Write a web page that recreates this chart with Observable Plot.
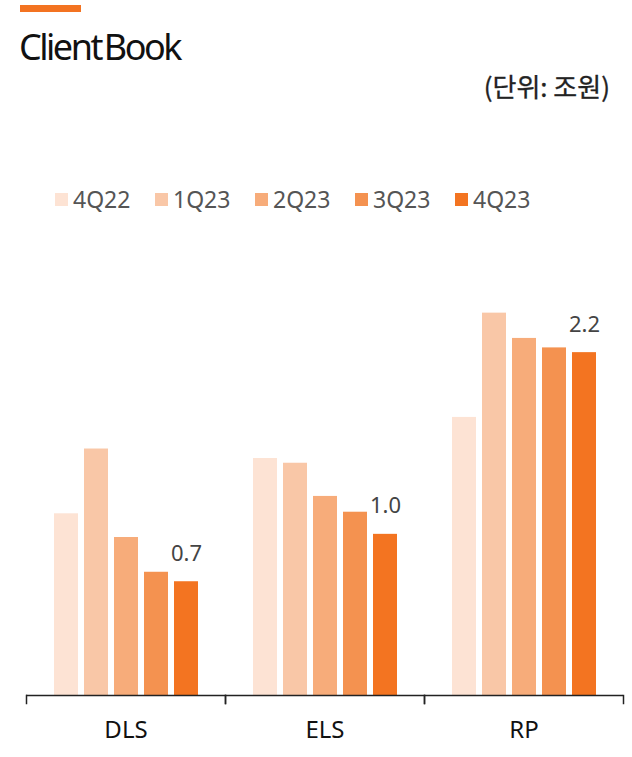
<!DOCTYPE html>
<html><head><meta charset="utf-8">
<script src="https://cdn.jsdelivr.net/npm/d3@7"></script>
<script src="https://cdn.jsdelivr.net/npm/@observablehq/plot@0.6"></script>
<style>
body{margin:0;background:#fff;font-family:"Noto Sans","Noto Sans CJK KR",sans-serif;}
#wrap{position:relative;width:632px;height:757px;overflow:hidden;background:#fff}
#stripe{position:absolute;left:20px;top:5px;width:61px;height:7px;background:#F37321}
#title{position:absolute;left:19px;top:29px;font-size:36px;line-height:36px;letter-spacing:-2.5px;word-spacing:-4px;color:#111;white-space:nowrap}
#unit{position:absolute;right:22px;top:71px;font-family:"Noto Sans CJK KR","Noto Sans",sans-serif;font-size:26px;line-height:30px;font-weight:400;color:#222;white-space:nowrap;-webkit-text-stroke:0.3px #222}
#legend{position:absolute;left:55px;top:185px;display:flex}
.item{width:100px;display:flex;align-items:center;height:28px}
.sw{width:13px;height:13px;margin-right:5px;flex:none}
.lab{font-size:23px;color:#555;line-height:28px}
#chart{position:absolute;left:0;top:0}
</style>
</head><body>
<div id="wrap">
  <div id="stripe"></div>
  <div id="title">Client Book</div>
  <div id="unit">(단위: 조원)</div>
  <div id="legend"></div>
  <div id="chart"></div>
</div>
<script>
const groups = ["DLS", "ELS", "RP"];
const series = ["4Q22", "1Q23", "2Q23", "3Q23", "4Q23"];
const colors = ["#FDE3D4", "#F9C7A7", "#F7AC7A", "#F49250", "#F37421"];
const dlsValues = [1.15, 1.56, 1.00, 0.78, 0.72];
const elsValues = [1.50, 1.47, 1.26, 1.16, 1.02];
const rpValues  = [1.76, 2.42, 2.26, 2.20, 2.17];
const lastLabels = ["0.7", "1.0", "2.2"];

const valuesByGroup = [dlsValues, elsValues, rpValues];
const rows = groups.flatMap((g, gi) => series.map((s, si) => ({group: g, series: s, value: valuesByGroup[gi][si]})));
const labelRows = groups.map((g, gi) => ({group: g, series: series[series.length - 1], value: valuesByGroup[gi][series.length - 1], label: lastLabels[gi]}));

// legend
const legend = document.getElementById("legend");
series.forEach((s, i) => {
  const it = document.createElement("div"); it.className = "item";
  const sw = document.createElement("div"); sw.className = "sw"; sw.style.background = colors[i];
  const lb = document.createElement("div"); lb.className = "lab"; lb.textContent = s;
  it.appendChild(sw); it.appendChild(lb); legend.appendChild(it);
});

const chart = Plot.plot({
  width: 632, height: 757,
  marginTop: 300, marginBottom: 62, marginLeft: 26, marginRight: 9,
  style: {fontFamily: "'Noto Sans', sans-serif", fontSize: "24px", background: "transparent", color: "#111"},
  fx: {domain: groups, padding: 0, label: null, axis: "bottom", tickSize: 0, tickPadding: 25},
  x: {domain: series, paddingInner: 0.216, paddingOuter: 0.86, axis: null},
  y: {domain: [0, 2.5], axis: null},
  color: {domain: series, range: colors},
  marks: [
    Plot.barY(rows, {fx: "group", x: "series", y: "value", fill: "series"}),
    Plot.text(labelRows, {fx: "group", x: "series", y: "value", text: "label", lineAnchor: "bottom", dy: -21, fontSize: 22, fill: "#444"}),
    Plot.ruleY([0], {stroke: "#222", strokeWidth: 1.5}),
    Plot.frame({anchor: "left", insetTop: 395, insetBottom: -8, stroke: "#222", strokeWidth: 1.5}),
    Plot.frame({anchor: "right", insetTop: 395, insetBottom: -8, stroke: "#222", strokeWidth: 1.5})
  ]
});
document.getElementById("chart").appendChild(chart);
</script>
</body></html>
